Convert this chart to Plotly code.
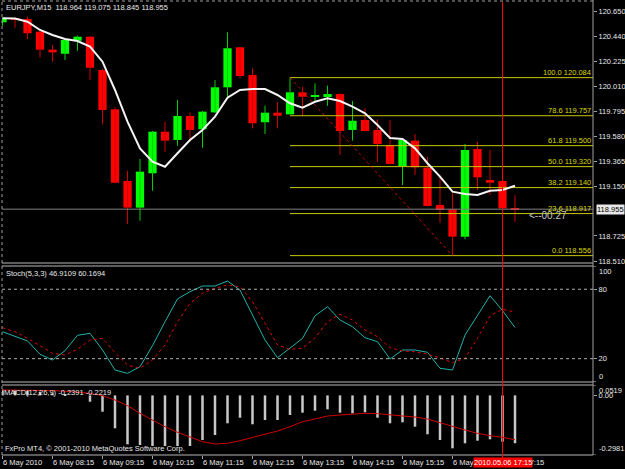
import plotly.graph_objects as go

W, H = 625, 469

# ---------------- data ----------------
symbol = "EURJPY,M15"
bars = list(range(42))
opens = [120.559, 120.593, 120.587, 120.478, 120.324, 120.289, 120.401, 120.435, 120.150, 119.812,
         119.197, 118.968, 119.263, 119.620, 119.549, 119.755, 119.641, 119.786, 120.001, 120.344,
         120.107, 119.701, 119.783, 119.769, 119.958, 119.920, 119.926, 119.943, 119.635, 119.720,
         119.635, 119.506, 119.325, 119.543, 119.311, 118.991, 118.954, 118.719, 119.471, 119.205,
         119.197, 118.964]
highs = [120.598, 120.600, 120.607, 120.484, 120.364, 120.416, 120.444, 120.441, 120.158, 119.829,
         119.285, 119.386, 119.626, 119.706, 119.892, 119.786, 119.798, 120.064, 120.473, 120.349,
         120.164, 119.843, 119.872, 120.084, 120.006, 120.035, 120.015, 119.950, 119.883, 119.821,
         119.726, 119.720, 119.549, 119.600, 119.405, 119.248, 119.091, 119.514, 119.534, 119.463,
         119.248, 119.075]
lows = [120.530, 120.513, 120.413, 120.255, 120.221, 120.235, 120.315, 120.064, 119.683, 119.177,
        118.828, 118.856, 119.113, 119.448, 119.500, 119.534, 119.483, 119.780, 119.912, 120.078,
        119.649, 119.600, 119.649, 119.767, 119.755, 119.883, 119.843, 119.420, 119.543, 119.622,
        119.362, 119.338, 119.162, 119.248, 118.978, 118.839, 118.556, 118.696, 119.119, 119.077,
        118.931, 118.845]
closes = [120.593, 120.581, 120.465, 120.324, 120.301, 120.407, 120.435, 120.169, 119.806, 119.182,
          118.968, 119.277, 119.620, 119.543, 119.755, 119.635, 119.792, 120.001, 120.336, 120.098,
          119.692, 119.783, 119.757, 119.958, 119.920, 119.935, 119.943, 119.626, 119.714, 119.626,
          119.514, 119.343, 119.549, 119.314, 118.982, 118.948, 118.719, 119.463, 119.228, 119.182,
          118.962, 118.955]
moving_avg = [120.593, 120.592, 120.564, 120.493, 120.450, 120.416, 120.398, 120.350, 120.221, 119.978,
              119.707, 119.477, 119.362, 119.319, 119.435, 119.549, 119.635, 119.749, 119.912, 119.978,
              119.986, 119.986, 119.935, 119.864, 119.826, 119.877, 119.907, 119.883, 119.835, 119.778,
              119.677, 119.566, 119.557, 119.477, 119.349, 119.234, 119.105, 119.085, 119.077, 119.113,
              119.119, 119.156]

stoch_main = [43.3, 39.6, 35.3, 23.8, 18.8, 26.9, 40.2, 41.9, 27.5, 10.2,
              7.3, 13.1, 31.2, 51.9, 71.6, 77.9, 82.8, 82.8, 87.1, 79.3,
              57.7, 36.1, 20.8, 29.0, 37.5, 57.0, 64.9, 53.4, 47.6, 38.1,
              34.7, 19.7, 27.5, 27.5, 25.5, 11.7, 10.2, 40.4, 57.7, 74.4,
              61.5, 46.9109]
stoch_signal = [46.8, 43.3, 37.6, 30.9, 24.6, 23.2, 28.1, 36.1, 37.6, 25.2,
                14.5, 11.7, 18.8, 31.8, 51.9, 67.8, 76.5, 80.8, 83.7, 82.2,
                69.2, 50.6, 31.8, 28.1, 29.0, 38.0, 51.9, 58.3, 53.4, 44.8,
                39.0, 29.5, 26.6, 26.0, 23.8, 20.8, 16.5, 20.3, 37.6, 56.9,
                62.7, 60.1694]
stoch_levels = [20, 80]

macd_main = [0.030, 0.028, 0.025, 0.018, 0.010, 0.006, 0.000, -0.0315, -0.0815, -0.1645,
             -0.2445, -0.248, -0.253, -0.253, -0.253, -0.253, -0.223, -0.198, -0.1395, -0.1115,
             -0.1445, -0.123, -0.123, -0.098, -0.0865, -0.0765, -0.0695, -0.0865, -0.0895, -0.0845,
             -0.1115, -0.1395, -0.1345, -0.1565, -0.1945, -0.223, -0.2645, -0.2395, -0.2265, -0.2195,
             -0.2315, -0.2391]
macd_signal = [0.027, 0.027, 0.027, 0.026, 0.024, 0.021, 0.017, 0.0105, -0.0015, -0.023,
               -0.0515, -0.0895, -0.123, -0.1565, -0.1845, -0.2065, -0.2315, -0.243, -0.2395, -0.2265,
               -0.2095, -0.1945, -0.178, -0.1565, -0.1315, -0.118, -0.103, -0.098, -0.093, -0.0895,
               -0.091, -0.098, -0.103, -0.108, -0.118, -0.1365, -0.1565, -0.173, -0.1895, -0.2015,
               -0.2095, -0.2219]

fib_ratios = [0.0, 23.6, 38.2, 50.0, 61.8, 78.6, 100.0]
fib_prices = [118.556, 118.917, 119.140, 119.320, 119.500, 119.757, 120.084]
fib_start_bar = 23
fib_end_bar = 36

price_ticks = [120.650, 120.440, 120.225, 120.010, 119.795, 119.580, 119.365, 119.150, 118.725, 118.510]
price_range = [118.4928, 120.7332]
stoch_ticks = [20, 80]
stoch_edge_ticks = [100, 0]
stoch_range = [-0.17, 100.09]
macd_ticks = [0.0]
macd_tick_text = ["0.00"]
macd_edge_ticks = [0.0519, -0.2981]
macd_range = [-0.298, 0.052]

time_ticks = [0, 4, 8, 12, 16, 20, 24, 28, 32, 36, 40]
time_labels = ["6 May 2010", "6 May 08:15", "6 May 09:15", "6 May 10:15", "6 May 11:15",
               "6 May 12:15", "6 May 13:15", "6 May 14:15", "6 May 15:15", "6 May 16:15",
               "6 May 17:15"]
cursor_bar = 40
cursor_label = "2010.05.06 17:15"
timer_text = "<--00:27"
copyright_text = "FxPro MT4, © 2001-2010 MetaQuotes Software Corp."

# ---------------- geometry (pixels) ----------------
LEFT, RIGHT = 2, 593
MAIN_TOP, MAIN_BOT = 2, 263
STO_TOP, STO_BOT = 266, 382
MACD_TOP, MACD_BOT = 385, 455
BAR_PX = 12.5
x_range = [-0.04, (RIGHT - LEFT) / BAR_PX - 0.04]


def px(xp):
    return xp / W


def py(yp):
    return 1 - yp / H


FONT = "Liberation Sans, Arial, sans-serif"
TXT = "#E8E8E8"
BULL, BEAR = "#00FF00", "#FF0000"
BULL_WICK, BEAR_WICK = "#00D000", "#D00000"
FIB_COL = "#C8C800"

fig = go.Figure()

# ---- candles: wicks ----
for is_bull, col in [(True, BULL_WICK), (False, BEAR_WICK)]:
    xs, ys = [], []
    for k, o, h, l, c in zip(bars, opens, highs, lows, closes):
        if (c >= o) == is_bull:
            xs += [k, k, None]
            ys += [l, h, None]
    fig.add_trace(go.Scatter(x=xs, y=ys, mode="lines", line=dict(color=col, width=1),
                             xaxis="x", yaxis="y", hoverinfo="skip"))

# ---- candles: bodies ----
body_base = [min(o, c) for o, c in zip(opens, closes)]
body_h = [max(abs(c - o), 0.004) for o, c in zip(opens, closes)]
body_col = [BULL if c >= o else BEAR for o, c in zip(opens, closes)]
fig.add_trace(go.Bar(x=bars, y=body_h, base=body_base, width=0.66,
                     marker=dict(color=body_col, line=dict(width=0)),
                     xaxis="x", yaxis="y", hoverinfo="skip"))

# ---- fibonacci ----
for p in fib_prices:
    fig.add_trace(go.Scatter(x=[fib_start_bar, x_range[1] + 5], y=[p, p], mode="lines",
                             line=dict(color=FIB_COL, width=1), xaxis="x", yaxis="y",
                             hoverinfo="skip"))
fig.add_trace(go.Scatter(x=[fib_start_bar, fib_end_bar], y=[fib_prices[-1], fib_prices[0]],
                         mode="lines", line=dict(color="#C00000", width=1, dash="dot"),
                         xaxis="x", yaxis="y", hoverinfo="skip"))

# ---- moving average ----
fig.add_trace(go.Scatter(x=bars, y=moving_avg, mode="lines",
                         line=dict(color="#F4F4F4", width=2), xaxis="x", yaxis="y",
                         hoverinfo="skip"))

# ---- stochastic ----
fig.add_trace(go.Scatter(x=bars, y=stoch_main, mode="lines",
                         line=dict(color="#20B2AA", width=1), xaxis="x", yaxis="y2",
                         hoverinfo="skip"))
fig.add_trace(go.Scatter(x=bars, y=stoch_signal, mode="lines",
                         line=dict(color="#E00000", width=1, dash="dot"), xaxis="x", yaxis="y2",
                         hoverinfo="skip"))

# ---- MACD ----
fig.add_trace(go.Bar(x=bars, y=macd_main, width=0.2,
                     marker=dict(color="#C8C8C8", line=dict(width=0)),
                     xaxis="x", yaxis="y3", hoverinfo="skip"))
fig.add_trace(go.Scatter(x=bars, y=macd_signal, mode="lines",
                         line=dict(color="#D00000", width=1), xaxis="x", yaxis="y3",
                         hoverinfo="skip"))

# ---------------- shapes ----------------
GRAY = "#A0A0A0"
shapes = []
shapes.append(dict(type="line", xref="paper", yref="paper", x0=px(LEFT), x1=px(RIGHT),
                   y0=py(1), y1=py(1), line=dict(color=GRAY, width=1, dash="dot")))
shapes.append(dict(type="line", xref="paper", yref="paper", x0=px(LEFT), x1=px(LEFT),
                   y0=py(MACD_BOT), y1=py(1), line=dict(color=GRAY, width=1, dash="dot")))
for yy in [MAIN_BOT, STO_TOP, STO_BOT, MACD_TOP, MACD_BOT]:
    shapes.append(dict(type="line", xref="paper", yref="paper", x0=px(LEFT), x1=px(RIGHT),
                       y0=py(yy), y1=py(yy), line=dict(color="#B8B8B8", width=1)))
shapes.append(dict(type="line", xref="paper", yref="paper", x0=px(RIGHT), x1=px(RIGHT),
                   y0=py(MACD_BOT), y1=py(0), line=dict(color=GRAY, width=1)))
for lv in stoch_levels:
    shapes.append(dict(type="line", xref="paper", yref="y2", x0=px(LEFT), x1=px(RIGHT),
                       y0=lv, y1=lv, line=dict(color="#B0B0B0", width=1, dash="3px,3px")))
shapes.append(dict(type="line", xref="paper", yref="y", x0=px(LEFT), x1=px(RIGHT),
                   y0=closes[-1], y1=closes[-1], line=dict(color="#808080", width=1)))
shapes.append(dict(type="line", xref="x", yref="paper", x0=cursor_bar, x1=cursor_bar,
                   y0=py(MACD_BOT + 4), y1=py(MAIN_TOP), line=dict(color="#FF0000", width=1)))
for v in stoch_edge_ticks:
    shapes.append(dict(type="line", xref="paper", yref="y2", x0=px(RIGHT), x1=px(RIGHT + 3),
                       y0=v, y1=v, line=dict(color=GRAY, width=1)))
for v in macd_edge_ticks:
    shapes.append(dict(type="line", xref="paper", yref="y3", x0=px(RIGHT), x1=px(RIGHT + 3),
                       y0=v, y1=v, line=dict(color=GRAY, width=1)))

# ---------------- annotations ----------------
ann = []


def text(x, y, s, color=TXT, size=7.5, xanchor="left", yanchor="middle", xref="paper",
         yref="paper", bg=None):
    d = dict(x=x, y=y, xref=xref, yref=yref, text=s, showarrow=False, xanchor=xanchor,
             yanchor=yanchor, font=dict(family=FONT, size=size, color=color),
             borderpad=0)
    if bg:
        d["bgcolor"] = bg
    ann.append(d)


text(px(5), py(7), "%s  %.3f %.3f %.3f %.3f" % (symbol, opens[-1], highs[-1], lows[-1], closes[-1]))
text(px(5), py(273.5), "Stoch(5,3,3) %.4f %.4f" % (stoch_main[-1], stoch_signal[-1]))
text(px(3), py(392), "MACD(12,26,9) %.4f %.4f" % (macd_main[-1], macd_signal[-1]))
text(px(4), py(448.5), copyright_text)
for r, p in zip(fib_ratios, fib_prices):
    text(px(RIGHT - 1), p, "%.1f %.3f" % (r, p), color="#D8D800", xanchor="right",
         yanchor="bottom", yref="y")
text(px(528), py(215), timer_text, color="#C4C4C4", size=10)
text(px(596), closes[-1], "%.3f" % closes[-1], color="#000000", size=7.5, yref="y", bg="#E8E8E8")
text(cursor_bar, py(462.5), cursor_label, color="#FFFFFF", size=7.5, xanchor="center",
     xref="x", bg="#FF0000")
text(px(598), py(STO_TOP), "%d" % stoch_edge_ticks[0], yanchor="top")
text(px(598), py(STO_BOT), "%d" % stoch_edge_ticks[1], yanchor="bottom")
text(px(598), py(MACD_TOP), "%.4f" % macd_edge_ticks[0], yanchor="top")
text(px(598), py(MACD_BOT - 1), "%.4f" % macd_edge_ticks[1], yanchor="bottom")

# ---------------- layout ----------------
axis_font = dict(family=FONT, size=7.5, color=TXT)
common_y = dict(side="right", anchor="x", showgrid=False, zeroline=False, showline=False,
                ticks="outside", ticklen=3, tickcolor=GRAY, tickfont=axis_font,
                fixedrange=True, automargin=False)

fig.update_layout(
    width=W, height=H, margin=dict(l=0, r=0, t=0, b=0, autoexpand=False),
    paper_bgcolor="#000000", plot_bgcolor="#000000",
    showlegend=False, barmode="overlay", hovermode=False,
    xaxis=dict(domain=[px(LEFT), px(RIGHT)], range=x_range, anchor="y3",
               showgrid=False, zeroline=False, showline=False,
               tickmode="array", tickvals=time_ticks, ticktext=time_labels, tickangle=0,
               ticks="outside", ticklen=3, tickcolor=GRAY, tickfont=axis_font,
               ticklabelposition="outside right", fixedrange=True, automargin=False),
    yaxis=dict(domain=[py(MAIN_BOT), py(MAIN_TOP)], range=price_range,
               tickmode="array", tickvals=price_ticks,
               ticktext=["%.3f" % v for v in price_ticks], **common_y),
    yaxis2=dict(domain=[py(STO_BOT), py(STO_TOP)], range=stoch_range,
                tickmode="array", tickvals=stoch_ticks,
                ticktext=[str(v) for v in stoch_ticks], **common_y),
    yaxis3=dict(domain=[py(MACD_BOT), py(MACD_TOP)], range=macd_range,
                tickmode="array", tickvals=macd_ticks, ticktext=macd_tick_text, **common_y),
    shapes=shapes, annotations=ann,
)

fig.write_html("out.html")
